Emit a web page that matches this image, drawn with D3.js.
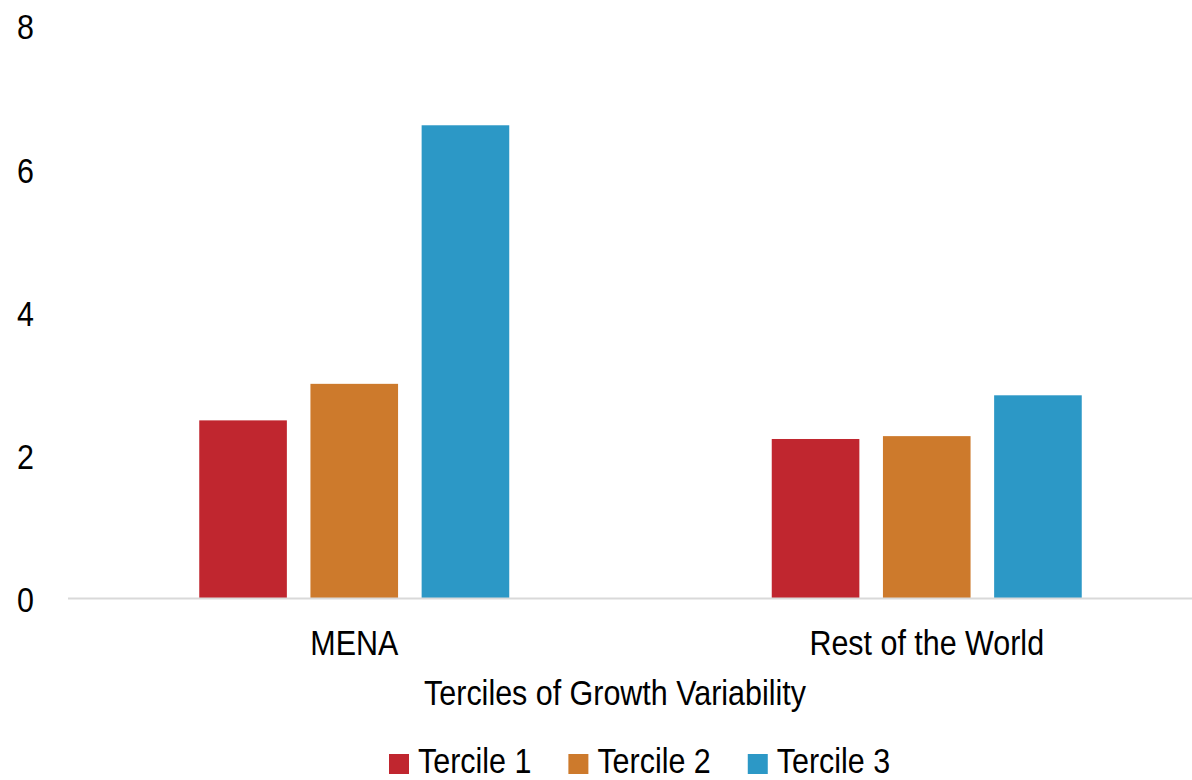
<!DOCTYPE html>
<html>
<head>
<meta charset="utf-8">
<script src="https://cdn.jsdelivr.net/npm/d3@7"></script>
<style>
  body { margin: 0; background: #fff; }
  text { font-family: "Liberation Sans", Arial, sans-serif; fill: #000; }
</style>
</head>
<body>
<svg class="canvas" width="1192" height="780"></svg>
<script>
// values
var regions = ["MENA", "Rest of the World"];
var terciles = ["Tercile 1", "Tercile 2", "Tercile 3"];
var tercile1 = [2.48, 2.22];
var tercile2 = [2.99, 2.26];
var tercile3 = [6.60, 2.83];
var yTicks = [0, 2, 4, 6, 8];
var colors = ["#c0262f", "#cd7a2c", "#2c98c6"];

var svg = d3.select(".canvas");
var fontSize = 35;
var squeeze = 0.87; // the original uses a narrow face

// fake a condensed font by squeezing each text horizontally
function narrow(sel) {
    sel.each(function() {
        var t = d3.select(this);
        var x = +t.attr("x") || 0, yy = +t.attr("y") || 0;
        t.attr("x", 0).attr("y", 0)
         .attr("transform", "translate(" + x + "," + yy + ") scale(" + squeeze + ",1)");
    });
}

var rows = regions.map(function(r, i) {
    return { region: r, values: [tercile1[i], tercile2[i], tercile3[i]] };
});

var y = d3.scaleLinear().domain([0, 8]).range([598, 25]);

var x0 = d3.scaleBand().domain(regions).range([68, 1213]).padding(0);

var groupW = 310;
var x1 = d3.scaleBand().domain(terciles)
    .range([-groupW / 2, groupW / 2])
    .paddingInner(0.212).paddingOuter(0);

// y tick labels
svg.selectAll(".ytick")
    .data(yTicks)
    .enter()
    .append("text")
        .attr("class", "ytick")
        .attr("x", 34)
        .attr("y", function(d) { return y(d) + 2; })
        .attr("dy", "0.35em")
        .attr("text-anchor", "end")
        .style("font-size", fontSize + "px")
        .text(function(d) { return d; })
        .call(narrow);

// bars
var group = svg.selectAll(".group")
    .data(rows)
    .enter()
    .append("g")
        .attr("class", "group")
        .attr("transform", function(d) { return "translate(" + (x0(d.region) + x0.bandwidth() / 2) + ",0)"; });

group.selectAll("rect")
    .data(function(d) { return d.values.map(function(v, i) { return { key: terciles[i], value: v, i: i }; }); })
    .enter()
    .append("rect")
        .attr("x", function(d) { return x1(d.key); })
        .attr("y", function(d) { return y(d.value); })
        .attr("width", x1.bandwidth())
        .attr("height", function(d) { return y(0) - y(d.value); })
        .style("fill", function(d) { return colors[d.i]; });

// x axis line
svg.append("line")
    .attr("x1", 68)
    .attr("x2", 1192)
    .attr("y1", y(0) + 0.5)
    .attr("y2", y(0) + 0.5)
    .style("stroke", "#d9d9d9")
    .attr("stroke-width", 2);

// category labels
svg.selectAll(".xlabel")
    .data(regions)
    .enter()
    .append("text")
        .attr("class", "xlabel")
        .attr("x", function(d) { return x0(d) + x0.bandwidth() / 2; })
        .attr("y", 655)
        .attr("text-anchor", "middle")
        .style("font-size", fontSize + "px")
        .text(function(d) { return d; })
        .call(narrow);

// axis title
svg.append("text")
    .attr("x", 615)
    .attr("y", 705)
    .attr("text-anchor", "middle")
    .style("font-size", fontSize + "px")
    .text("Terciles of Growth Variability")
    .call(narrow);

// legend
var legend = svg.append("g");
var lx = 389;
terciles.forEach(function(t, i) {
    var item = legend.append("g").attr("transform", "translate(" + lx + ",754)");
    item.append("rect")
        .attr("width", 20)
        .attr("height", 20)
        .style("fill", colors[i]);
    var label = item.append("text")
        .attr("x", 29)
        .attr("y", 19)
        .style("font-size", fontSize + "px")
        .text(t);
    var w = label.node().getComputedTextLength() * squeeze;
    label.call(narrow);
    lx += 29 + w + 37;
});
</script>
</body>
</html>
